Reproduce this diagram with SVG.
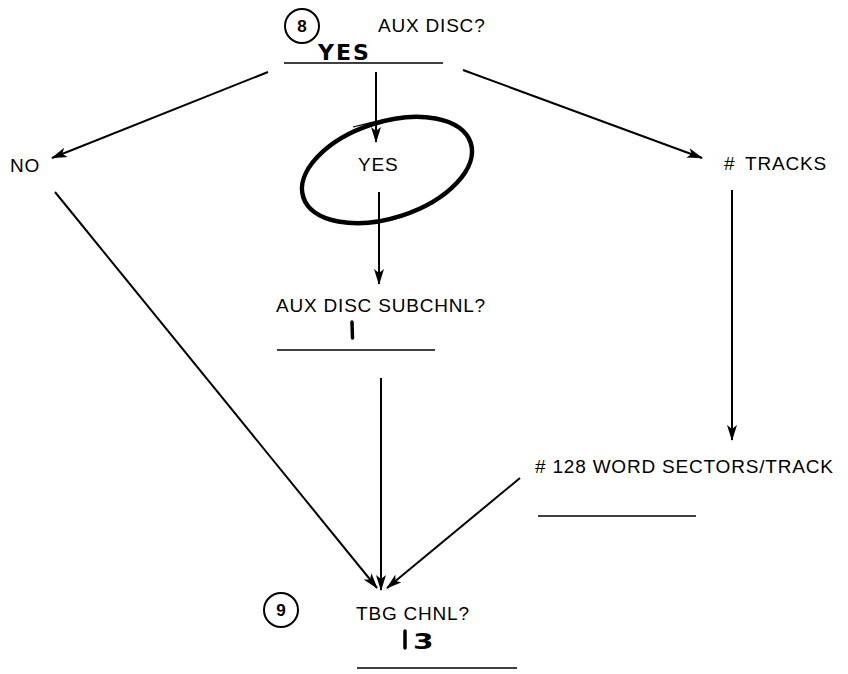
<svg xmlns="http://www.w3.org/2000/svg" width="848" height="674" viewBox="0 0 848 674">
  <style>
    .lbl { font-family: "Liberation Sans", Arial, sans-serif; font-size: 19px; letter-spacing: 0.8px; fill: #000; }
    .hand { font-family: "DejaVu Sans", "Liberation Sans", sans-serif; font-weight: bold; font-size: 22px; fill: #000; }
    .num { font-family: "Liberation Sans", Arial, sans-serif; font-weight: bold; font-size: 17px; fill: #000; text-anchor: middle; }
    .ring { fill: none; stroke: #000; stroke-width: 2; }
    .rule { stroke: #000; stroke-width: 1.5; fill: none; }
    .edge { stroke: #000; stroke-width: 2; fill: none; marker-end: url(#head); }
  </style>
  <defs>
    <marker id="head" viewBox="0 0 16 10" refX="15" refY="5" markerWidth="16" markerHeight="10" markerUnits="userSpaceOnUse" orient="auto">
      <path d="M0,0 L16,5 L0,10 L4,5 Z" fill="#000"/>
    </marker>
  </defs>
  <rect width="848" height="674" fill="#fff"/>

  <g id="connectors">
    <line class="edge" x1="376" y1="72" x2="376" y2="142"/>
    <line class="edge" x1="268" y1="72" x2="52" y2="158"/>
    <line class="edge" x1="463" y1="70" x2="702" y2="158"/>
    <line class="edge" x1="379" y1="192" x2="379" y2="284"/>
    <line class="edge" x1="732" y1="190" x2="732" y2="440"/>
    <line class="edge" x1="55" y1="192" x2="377" y2="588"/>
    <line class="edge" x1="381" y1="378" x2="381" y2="590"/>
    <line class="edge" x1="520" y1="478" x2="387" y2="588"/>
  </g>

  <g id="node-aux-disc">
    <circle class="ring" cx="302" cy="26" r="17"/>
    <text class="num" x="302" y="32">8</text>
    <text class="lbl" x="378" y="32">AUX DISC?</text>
    <text class="hand" x="318" y="60" letter-spacing="2">YES</text>
    <line class="rule" x1="284" y1="63" x2="443" y2="63"/>
  </g>

  <g id="node-no">
    <text class="lbl" x="10" y="172">NO</text>
  </g>

  <g id="node-yes">
    <ellipse cx="387" cy="170" rx="88" ry="48" transform="rotate(-18 387 170)" fill="none" stroke="#000" stroke-width="4.5"/>
    <path d="M353,127 Q392,116 432,118" fill="none" stroke="#000" stroke-width="1.2"/>
    <text class="lbl" x="358" y="171">YES</text>
  </g>

  <g id="node-tracks">
    <text class="lbl" x="724" y="170"># <tspan dx="4">TRACKS</tspan></text>
  </g>

  <g id="node-subchnl">
    <text class="lbl" x="276" y="312">AUX DISC SUBCHNL?</text>
    <line x1="352" y1="322" x2="352.5" y2="338" stroke="#000" stroke-width="3.5" stroke-linecap="round"/>
    <line class="rule" x1="277" y1="350" x2="435" y2="350"/>
  </g>

  <g id="node-sectors">
    <text class="lbl" x="535" y="473"># 128 WORD SECTORS/TRACK</text>
    <line class="rule" x1="538" y1="516" x2="696" y2="516"/>
  </g>

  <g id="node-tbg">
    <circle class="ring" cx="281" cy="610" r="17"/>
    <text class="num" x="281" y="616">9</text>
    <text class="lbl" x="356" y="620">TBG CHNL?</text>
    <line x1="405" y1="631" x2="405" y2="648" stroke="#000" stroke-width="3.5" stroke-linecap="round"/>
    <text class="hand" font-size="26" transform="translate(413 649) scale(1.35 1)">3</text>
    <line class="rule" x1="357" y1="668" x2="517" y2="668"/>
  </g>
</svg>
